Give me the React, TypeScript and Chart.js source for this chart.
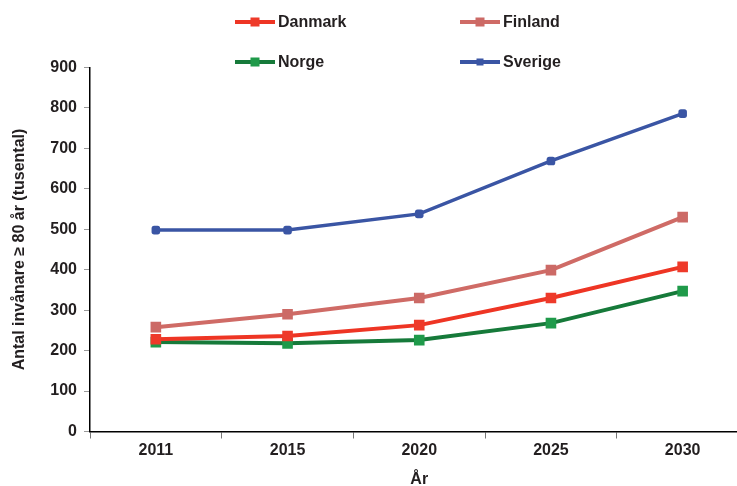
import React, { useEffect, useRef } from "react";
import { Chart, registerables } from "chart.js";

Chart.register(...registerables);

const years = ["2011", "2015", "2020", "2025", "2030"];
const danmark = [228, 236, 263, 330, 407];
const finland = [258, 290, 330, 399, 530];
const norge = [221, 218, 226, 268, 347];
const sverige = [498, 498, 538, 669, 786];
const yTitle = "Antal invånare ≥ 80 år (tusental)";
const xTitle = "År";

const FONT = "'Liberation Sans', Arial, sans-serif";
const TEXT = "#231f20";

const legendPlugin = {
  id: "gridLegend",
  afterDraw(chart: any) {
    const ctx = chart.ctx;
    const cols = [235, 460];
    const rows = [22, 62];
    chart.data.datasets.forEach((ds: any, i: number) => {
      const x = cols[i % 2];
      const y = rows[Math.floor(i / 2)];
      ctx.save();
      ctx.strokeStyle = ds.borderColor;
      ctx.lineWidth = 4;
      ctx.beginPath();
      ctx.moveTo(x, y);
      ctx.lineTo(x + 40, y);
      ctx.stroke();
      ctx.fillStyle = ds.pointBackgroundColor;
      const s = i === 3 ? 7 : 9;
      ctx.fillRect(x + 20 - s / 2, y - s / 2, s, s);
      ctx.fillStyle = TEXT;
      ctx.font = `bold 16px ${FONT}`;
      ctx.textBaseline = "middle";
      ctx.textAlign = "left";
      ctx.fillText(ds.label, x + 43, y + 1);
      ctx.restore();
    });
  },
};

export default function App() {
  const ref = useRef<HTMLCanvasElement>(null);
  useEffect(() => {
    if (!ref.current) return;
    const mk = (label: string, data: number[], line: string, pt: string, r: number, style: any, w: number) => ({
      label,
      data,
      borderColor: line,
      backgroundColor: pt,
      pointBackgroundColor: pt,
      pointBorderColor: pt,
      pointBorderWidth: 0,
      pointStyle: style,
      pointRadius: r,
      borderWidth: w,
      tension: 0,
    });
    const chart = new Chart(ref.current, {
      type: "line",
      data: {
        labels: years,
        datasets: [
          mk("Danmark", danmark, "#ee3524", "#ee3a2a", 7.5, "rect", 4),
          mk("Finland", finland, "#cf6b66", "#cc6a66", 7.5, "rect", 4),
          mk("Norge", norge, "#167a3a", "#1f9a4a", 7.5, "rect", 4),
          mk("Sverige", sverige, "#3a55a4", "#3a55a4", 5, "rectRounded", 3.5),
        ],
      },
      options: {
        animation: false,
        responsive: false,
        maintainAspectRatio: false,
        layout: { padding: { top: 67.5, left: 0, right: 0, bottom: 0 } },
        plugins: { legend: { display: false }, tooltip: { enabled: false } },
        scales: {
          x: {
            type: "category",
            offset: true,
            grid: {
              display: true,
              offset: true,
              drawOnChartArea: false,
              drawTicks: true,
              tickLength: 7,
              tickColor: "#777",
            },
            border: { color: "#000", width: 1.5 },
            ticks: { color: TEXT, font: { family: FONT, size: 16, weight: "bold" }, padding: 2 },
            title: {
              display: true,
              text: xTitle,
              color: TEXT,
              font: { family: FONT, size: 16, weight: "bold", lineHeight: 1 },
              padding: { top: 0, bottom: -2 },
            },
            afterFit: (s: any) => {
              s.height = 54.5;
            },
          },
          y: {
            min: 0,
            max: 900,
            ticks: { stepSize: 100, color: TEXT, font: { family: FONT, size: 16, weight: "bold" }, padding: 7 },
            grid: { drawOnChartArea: false, drawTicks: true, tickLength: 6, tickColor: "#999" },
            border: { color: "#000", width: 1.5 },
            title: {
              display: true,
              text: yTitle,
              color: TEXT,
              font: { family: FONT, size: 16, weight: "bold" },
              padding: { top: 10, bottom: 0 },
            },
            afterFit: (s: any) => {
              s.width = 90;
            },
          },
        },
      },
      plugins: [legendPlugin],
    });
    return () => chart.destroy();
  }, []);
  return (
    <div style={{ position: "fixed", left: 0, top: 0, width: 737, height: 486, overflow: "hidden", background: "#fff" }}>
      <canvas ref={ref} width={756} height={486} style={{ width: 756, height: 486, display: "block" }} />
    </div>
  );
}
